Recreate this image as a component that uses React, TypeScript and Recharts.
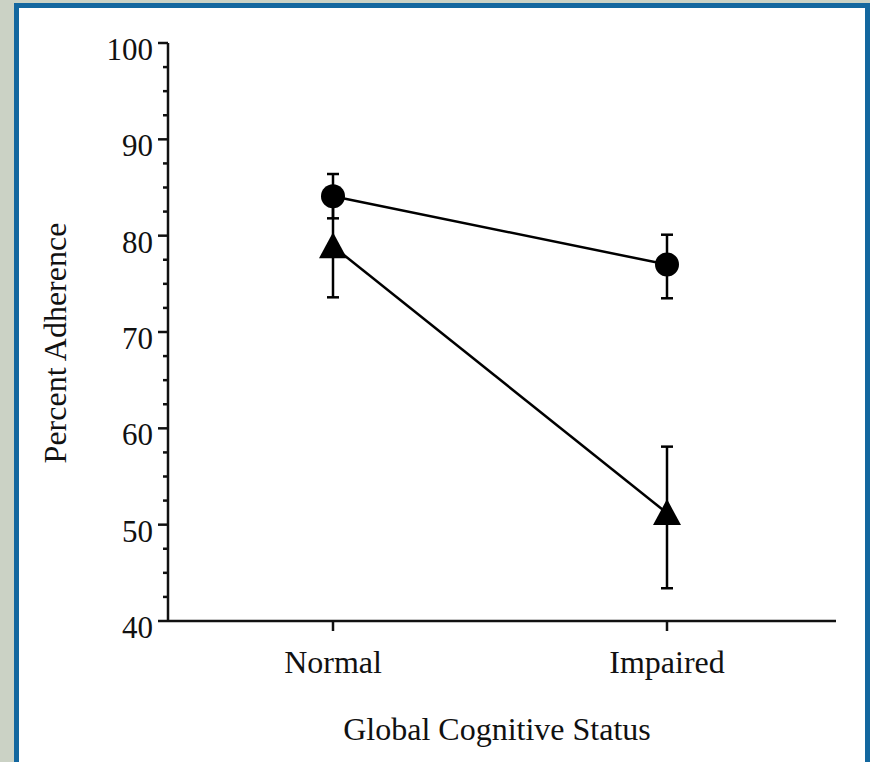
import React from 'react';
import { LineChart, Line, XAxis, YAxis, ErrorBar, Label } from 'recharts';

const categories = ['Normal', 'Impaired'];
const circleValues = [84.1, 77.0];
const circleErrors = [[2.3, 2.3], [3.5, 3.1]];
const triangleValues = [78.9, 51.2];
const triangleErrors = [[5.3, 5.3], [7.8, 6.9]];
const yTicks = [40, 42.5, 45, 47.5, 50, 52.5, 55, 57.5, 60, 62.5, 65, 67.5, 70, 72.5, 75, 77.5, 80, 82.5, 85, 87.5, 90, 92.5, 95, 97.5, 100];
const yTickLabels = ['40', '50', '60', '70', '80', '90', '100'];
const xTitle = 'Global Cognitive Status';
const yTitle = 'Percent Adherence';

const data = categories.map((c, i) => ({
  status: c,
  circle: circleValues[i],
  circleErr: circleErrors[i],
  triangle: triangleValues[i],
  triangleErr: triangleErrors[i],
}));

const FONT = '"Liberation Serif", "Times New Roman", serif';
const INK = '#111';

const YTick = (props: any) => {
  const { x, y, payload } = props;
  const v = payload.value;
  const label = String(v);
  const major = yTickLabels.includes(label);
  return (
    <g>
      <line x1={x} x2={x - (major ? 10 : 5)} y1={y} y2={y} stroke={INK} strokeWidth={2.5} />
      {major && (
        <text x={x - 15} y={y + 17} textAnchor="end" fontFamily={FONT} fontSize={31} fill={INK}>
          {label}
        </text>
      )}
    </g>
  );
};

const XTick = (props: any) => {
  const { x, y, payload } = props;
  return (
    <g>
      <line x1={x} x2={x} y1={y} y2={y + 10} stroke={INK} strokeWidth={2.5} />
      <text x={x} y={y + 52} textAnchor="middle" fontFamily={FONT} fontSize={32} fill={INK}>
        {payload.value}
      </text>
    </g>
  );
};

const CircleDot = (props: any) => {
  const { cx, cy } = props;
  if (cx == null || cy == null) return null;
  return <circle cx={cx} cy={cy} r={12} fill="#000" />;
};

const TriangleDot = (props: any) => {
  const { cx, cy } = props;
  if (cx == null || cy == null) return null;
  return <polygon points={`${cx},${cy - 14} ${cx - 14},${cy + 12} ${cx + 14},${cy + 12}`} fill="#000" />;
};

export default function App() {
  return (
    <div style={{ position: 'absolute', left: 0, top: 0, width: 870, height: 762, background: '#cbd2c5', overflow: 'hidden' }}>
      <div
        style={{
          position: 'absolute',
          left: 14,
          top: 3,
          width: 856,
          height: 800,
          boxSizing: 'border-box',
          border: '5px solid #13679f',
          background: '#fff',
        }}
      />
      <div style={{ position: 'absolute', left: 0, top: 0 }}>
        <LineChart width={870} height={762} data={data} margin={{ top: 43, right: 34, bottom: 81, left: 108 }}>
          <XAxis
            dataKey="status"
            type="category"
            padding={{ left: 165, right: 169 }}
            height={60}
            axisLine={{ stroke: INK, strokeWidth: 2.5 }}
            tickLine={false}
            tickSize={0}
            tickMargin={0}
            tick={<XTick />}
            interval={0}
          >
            <Label
              content={(p: any) => {
                const vb = p.viewBox;
                return (
                  <text x={vb.x + vb.width / 2 - 5} y={vb.y + 119} textAnchor="middle" fontFamily={FONT} fontSize={32} fill={INK}>
                    {xTitle}
                  </text>
                );
              }}
            />
          </XAxis>
          <YAxis
            type="number"
            domain={[40, 100]}
            ticks={yTicks}
            interval={0}
            width={60}
            axisLine={{ stroke: INK, strokeWidth: 2.5 }}
            tickLine={false}
            tickSize={0}
            tickMargin={0}
            tick={<YTick />}
          >
            <Label
              content={(p: any) => {
                const vb = p.viewBox;
                const cx = 66;
                const cy = vb.y + vb.height / 2 + 11;
                return (
                  <text x={cx} y={cy} transform={`rotate(-90, ${cx}, ${cy})`} textAnchor="middle" fontFamily={FONT} fontSize={32} fill={INK}>
                    {yTitle}
                  </text>
                );
              }}
            />
          </YAxis>
          <Line dataKey="triangle" stroke="#000" strokeWidth={2.5} dot={<TriangleDot />} activeDot={false} isAnimationActive={false}>
            <ErrorBar dataKey="triangleErr" direction="y" width={6} stroke="#000" strokeWidth={2.5} />
          </Line>
          <Line dataKey="circle" stroke="#000" strokeWidth={2.5} dot={<CircleDot />} activeDot={false} isAnimationActive={false}>
            <ErrorBar dataKey="circleErr" direction="y" width={6} stroke="#000" strokeWidth={2.5} />
          </Line>
        </LineChart>
      </div>
    </div>
  );
}
